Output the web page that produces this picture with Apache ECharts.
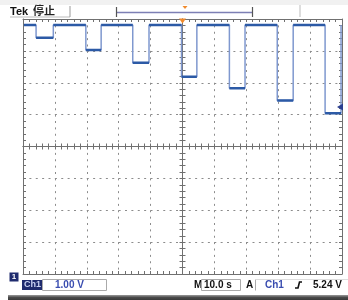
<!DOCTYPE html>
<html>
<head>
<meta charset="utf-8">
<script src="https://cdn.jsdelivr.net/npm/echarts@6/dist/echarts.min.js"></script>
<style>
html,body{margin:0;padding:0;background:#fff;}
#c{width:348px;height:300px;}
</style>
</head>
<body>
<div id="c"></div>
<script>
// ---- data (seconds / volts) ----
const timeRange = [0, 100];          // 10 divisions x 10.0 s
const voltRange = [0, 8];            // 8 divisions x 1.00 V
const traceStart = 0.3;
const highLevel = 7.81;
const dropTimes = [4.1, 19.7, 34.4, 49.7, 64.7, 79.7, 94.7];
const riseTimes = [9.5, 24.5, 39.5, 54.5, 69.6, 84.7, 99.7];
const lowLevels = [7.41, 7.03, 6.63, 6.19, 5.83, 5.44, 5.04];
const triggerLevel = 5.24;
const triggerTime = 50;
const chLabel = 'Ch1';
const voltsPerDiv = '1.00 V';
const timePerDiv = '10.0 s';
const triggerText = '5.24 V';

// build trace from arrays
const fullTrace = [[traceStart, highLevel]];
const levelTrace = [[traceStart, highLevel]];
for (let i = 0; i < dropTimes.length; i++) {
  fullTrace.push([dropTimes[i], highLevel], [dropTimes[i], lowLevels[i]], [riseTimes[i], lowLevels[i]], [riseTimes[i], highLevel]);
  levelTrace.push([dropTimes[i], highLevel], [dropTimes[i], '-'], [dropTimes[i], lowLevels[i]], [riseTimes[i], lowLevels[i]], [riseTimes[i], '-']);
  if (i < dropTimes.length - 1) levelTrace.push([riseTimes[i], highLevel]);
}

const frameColor = '#707070';
const halfT = (timeRange[1] - timeRange[0]) / 2;
const halfV = (voltRange[1] - voltRange[0]) / 2;
function ax(min, max, interval, extra, inside) {
  return Object.assign({type: 'value', min: min, max: max, interval: interval,
    axisLine: {show: true, onZero: false, lineStyle: {color: frameColor, width: 1}},
    axisTick: {show: true, inside: inside !== false, length: 3, lineStyle: {color: frameColor}},
    minorTick: {show: true, splitNumber: 5, length: 3, lineStyle: {color: frameColor}},
    axisLabel: {show: false}, splitLine: {show: false}}, extra);
}
const dot = () => ({show: true, lineStyle: {color: '#8c8c8c', width: 1, type: [2, 4.375]}});
const G = {left: 23, right: 6, top: 19, bottom: 26};

const chart = echarts.init(document.getElementById('c'), null, {renderer: 'canvas'});
const txt = (x, y, text, style) => ({type: 'text', left: x, top: y, silent: true,
  style: Object.assign({text: text, font: 'bold 10px "Liberation Sans", Arial, sans-serif', fill: '#111'}, style)});

chart.setOption({
  animation: false,
  backgroundColor: '#ffffff',
  grid: [Object.assign({}, G), Object.assign({}, G), Object.assign({}, G)],
  xAxis: [
    ax(timeRange[0], timeRange[1], 10, {gridIndex: 0, position: 'bottom', splitLine: dot()}),
    ax(timeRange[0], timeRange[1], 10, {gridIndex: 0, position: 'top'}),
    ax(-halfT, halfT, 10, {gridIndex: 1, axisLine: {show: true, onZero: true, lineStyle: {color: frameColor, width: 1}}}, true),
    ax(-halfT, halfT, 10, {gridIndex: 2, axisLine: {show: true, onZero: true, lineStyle: {color: frameColor, width: 1}}}, false)
  ],
  yAxis: [
    ax(voltRange[0], voltRange[1], 1, {gridIndex: 0, position: 'left', splitLine: dot()}),
    ax(voltRange[0], voltRange[1], 1, {gridIndex: 0, position: 'right'}),
    ax(-halfV, halfV, 1, {gridIndex: 1, axisLine: {show: true, onZero: true, lineStyle: {color: frameColor, width: 1}}}, true),
    ax(-halfV, halfV, 1, {gridIndex: 2, axisLine: {show: true, onZero: true, lineStyle: {color: frameColor, width: 1}}}, false)
  ],
  series: [
    {type: 'line', xAxisIndex: 0, yAxisIndex: 0, data: fullTrace, showSymbol: false, lineStyle: {color: '#7f98cf', width: 1.5}, z: 3,
      markPoint: {symbolKeepAspect: false, data: [
        {coord: [timeRange[1], triggerLevel], symbol: 'triangle', symbolRotate: 90, symbolSize: [7, 6], symbolOffset: [-2, 0], itemStyle: {color: '#2b3f8f'}, label: {show: false}},
        {coord: [triggerTime, voltRange[1]], symbol: 'triangle', symbolRotate: 180, symbolSize: [7, 5], symbolOffset: [0, 2], itemStyle: {color: '#f08a2c'}, label: {show: false}},
        {coord: [timeRange[0], voltRange[0]], symbol: 'rect', symbolSize: [9, 9], symbolOffset: [-9, 3], itemStyle: {color: '#1f2b6e'},
          label: {show: true, formatter: '1', color: '#fff', fontSize: 8, fontWeight: 'bold', position: 'inside', offset: [0, 0]}}
      ]}},
    {type: 'line', xAxisIndex: 0, yAxisIndex: 0, data: levelTrace, showSymbol: false, connectNulls: false, lineStyle: {color: '#2c5aa6', width: 2.5}, z: 4}
  ],
  graphic: [
    {type: 'rect', left: 0, top: 0, shape: {width: 348, height: 5}, style: {fill: '#f1f1f1'}, silent: true},
    txt(10, 6, 'Tek', {font: 'bold 11px "Liberation Sans", Arial, sans-serif', fill: '#111'}),
    txt(33, 5, '停止', {font: 'bold 11px "Noto Sans CJK SC", sans-serif', fill: '#222'}),
    {type: 'line', shape: {x1: 10, y1: 17, x2: 70, y2: 17}, style: {stroke: '#bbb', lineWidth: 1}, silent: true},
    {type: 'line', shape: {x1: 70, y1: 6, x2: 70, y2: 17}, style: {stroke: '#999', lineWidth: 1}, silent: true},
    {type: 'line', shape: {x1: 300, y1: 5, x2: 300, y2: 17}, style: {stroke: '#bbb', lineWidth: 1}, silent: true},
    {type: 'line', shape: {x1: 116.5, y1: 12.5, x2: 252.5, y2: 12.5}, style: {stroke: '#7d7fb5', lineWidth: 1.5}, silent: true},
    {type: 'line', shape: {x1: 116.5, y1: 7, x2: 116.5, y2: 17}, style: {stroke: '#555', lineWidth: 1.2}, silent: true},
    {type: 'line', shape: {x1: 252.5, y1: 7, x2: 252.5, y2: 17}, style: {stroke: '#555', lineWidth: 1.2}, silent: true},
    {type: 'polygon', shape: {points: [[182.5, 6], [187.5, 6], [185, 9]]}, style: {fill: '#f08a2c'}, silent: true},
    // bottom readout
    {type: 'rect', shape: {x: 22, y: 280, width: 20, height: 10}, style: {fill: '#1f2b6e'}, silent: true},
    txt(24, 280, chLabel, {fill: '#c9d2f2', font: 'bold 9px "Liberation Sans", Arial, sans-serif'}),
    {type: 'rect', shape: {x: 42.5, y: 279.5, width: 64, height: 11}, style: {fill: 'none', stroke: '#aaa', lineWidth: 1}, silent: true},
    txt(55, 280, voltsPerDiv, {fill: '#3a4db0'}),
    txt(194, 280, 'M', {fill: '#111'}),
    {type: 'rect', shape: {x: 201.5, y: 279.5, width: 39, height: 11}, style: {fill: 'none', stroke: '#aaa', lineWidth: 1}, silent: true},
    txt(204, 280, timePerDiv, {fill: '#111'}),
    txt(246, 280, 'A', {fill: '#111'}),
    {type: 'line', shape: {x1: 255.5, y1: 279.5, x2: 255.5, y2: 290.5}, style: {stroke: '#aaa', lineWidth: 1}, silent: true},
    {type: 'line', shape: {x1: 255.5, y1: 279.5, x2: 348, y2: 279.5}, style: {stroke: '#ddd', lineWidth: 1}, silent: true},
    txt(265, 280, chLabel, {fill: '#3a4db0'}),
    {type: 'polyline', shape: {points: [[295, 288], [298, 288], [299.5, 282], [302, 282]]}, style: {stroke: '#111', lineWidth: 1.6, fill: 'none'}, silent: true},
    txt(313, 280, triggerText, {fill: '#111'}),
    {type: 'rect', shape: {x: 8, y: 295, width: 340, height: 5},
      style: {fill: new echarts.graphic.LinearGradient(0, 0, 0, 1, [{offset: 0, color: '#9a9a9a'}, {offset: 0.5, color: '#4a4a4a'}, {offset: 1, color: '#3a3a3a'}])}, silent: true}
  ]
});
</script>
</body>
</html>
